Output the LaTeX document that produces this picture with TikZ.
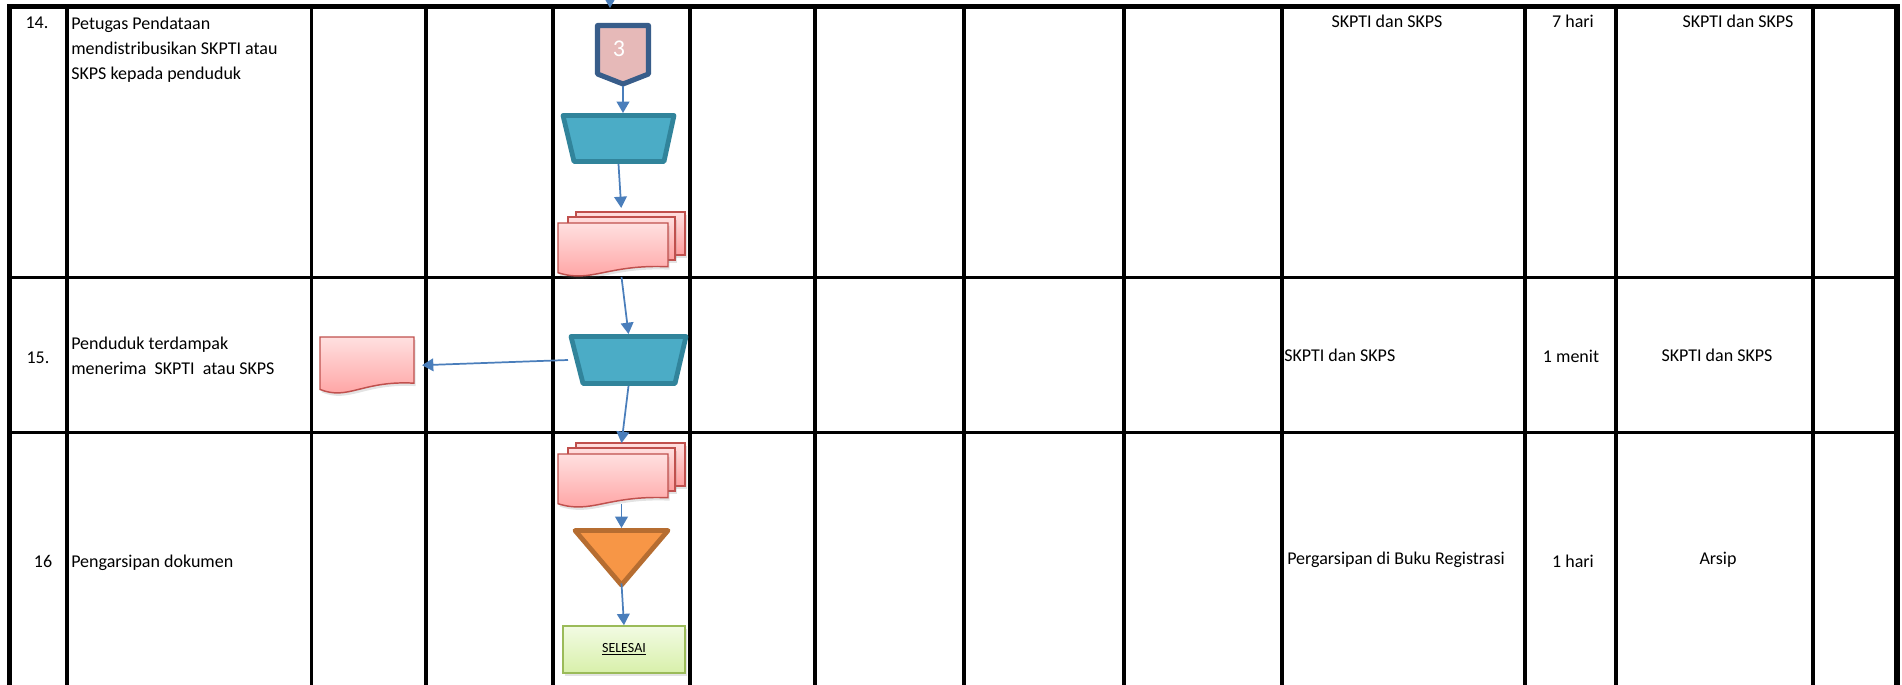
\documentclass[tikz,border=0pt]{standalone}
\usepackage{fontspec}
\setmainfont{Carlito}
\usetikzlibrary{arrows.meta,fit,shadows}

\definecolor{flowblue}{HTML}{4A7EBB}
\definecolor{manfill}{HTML}{4BACC6}
\definecolor{manline}{HTML}{31849B}
\definecolor{pagefill}{HTML}{E6B9B8}
\definecolor{pageline}{HTML}{385D8A}
\definecolor{doctop}{HTML}{FFE0E0}
\definecolor{docbot}{HTML}{FF9E9E}
\definecolor{docline}{HTML}{C0504D}
\definecolor{storefill}{HTML}{F79646}
\definecolor{storeline}{HTML}{B66D31}
\definecolor{endtop}{HTML}{F2FBE3}
\definecolor{endbot}{HTML}{D8F0AA}
\definecolor{endline}{HTML}{9BBB59}

% document sheet: top left corner, right end and lowest point of the wave
\newcommand{\docsheet}[4]{%
  \path[doc,softshadow] ({#1},{#2}) -- ({#3},{#2}) -- ({#3},{#2+0.81*(#4-#2)})
    .. controls ({#1+0.45*(#3-#1)},{#2+0.76*(#4-#2)}) and ({#1+0.3*(#3-#1)},{#2+1.12*(#4-#2)})
    .. ({#1},{#2+0.92*(#4-#2)}) -- cycle;}
% three sheets, front sheet at top left corner
\newcommand{\multidoc}[2]{%
  \path[doc,softshadow] ({#1+18},{#2-11}) rectangle ({#1+127},{#2+32});
  \path[doc,softshadow] ({#1+10},{#2-6}) rectangle ({#1+117},{#2+37});
  \docsheet{#1}{#2}{#1+110}{#2+54}}

\begin{document}
\begin{tikzpicture}[x=0.75pt,y=-0.75pt]
\tikzstyle{grid}=[line width=2.6pt]
\tikzstyle{frame}=[line width=4pt]
\tikzstyle{txt}=[inner sep=0pt,font=\fontsize{13.5}{19}\selectfont]
\tikzstyle{holder}=[inner sep=0pt,outer sep=0pt]
\tikzstyle{softshadow}=[drop shadow={opacity=0.22,shadow xshift=1.2pt,shadow yshift=-2.2pt}]
\tikzstyle{doc}=[draw=docline,line width=1.1pt,top color=doctop,bottom color=docbot]
\tikzstyle{manop}=[draw=manline,fill=manfill,line width=3.6pt,line join=round]
\tikzstyle{offpage}=[draw=pageline,fill=pagefill,line width=3.8pt,line join=round]
\tikzstyle{store}=[draw=storeline,fill=storefill,line width=3.6pt,line join=round]
\tikzstyle{endbox}=[draw=endline,line width=1.2pt,top color=endtop,bottom color=endbot,softshadow,minimum width=91.5pt,minimum height=35.25pt,inner sep=0pt,font=\fontsize{10.5}{12}\selectfont]
\tikzstyle{flow}=[draw=flowblue,line width=1.3pt,-{Triangle[length=8.5pt,width=9.5pt]}]

\useasboundingbox (0,0) rectangle (1902,685);

% table
\foreach \x in {67,311.5,426,553,690,815,964,1124,1282,1525,1616,1813}
  \draw[grid] (\x,7) -- (\x,690);
\foreach \y in {277.5,432.5}
  \draw[grid] (9,\y) -- (1897,\y);
\draw[frame] (9.5,690) -- (9.5,6.7) -- (1897,6.7) -- (1897,690);

% 14
\node[txt,anchor=base] (n14) at (37,29) {14.};
\node[txt,anchor=north west,align=left] (a14) at (71,16.5) {Petugas Pendataan\\mendistribusikan SKPTI atau\\SKPS kepada penduduk};
\node[txt,anchor=base] (d14) at (1387,28) {SKPTI dan SKPS};
\node[txt,anchor=base] (w14) at (1573,28) {7 hari};
\node[txt,anchor=base] (o14) at (1738,28) {SKPTI dan SKPS};

\path[offpage] (597.5,25.5) -- (648.5,25.5) -- (648.5,74) -- (623,84) -- (597.5,74) -- cycle;
\node[holder,fit={(595,23) (651,86)}] (c3) {};
\node[inner sep=0pt,text=white,font=\fontsize{18}{20}\selectfont] (c3lbl) at (619,48.5) {3};
\path[manop] (563,115.5) -- (674,115.5) -- (664,161.5) -- (574,161.5) -- cycle;
\node[holder,fit={(560,113) (677,164)}] (tr1) {};
\multidoc{558}{223}
\node[holder,fit={(558,212) (685,277)}] (md1) {};

% 15
\node[txt,anchor=base] (n15) at (38,363) {15.};
\node[txt,anchor=west,align=left] (a15) at (71,356) {Penduduk terdampak\\menerima~ SKPTI~ atau SKPS};
\node[txt,anchor=base west] (d15) at (1284,361) {SKPTI dan SKPS};
\node[txt,anchor=base] (w15) at (1571,362) {1 menit};
\node[txt,anchor=base] (o15) at (1717,361) {SKPTI dan SKPS};

\docsheet{320}{337}{414}{394}
\node[holder,fit={(320,337) (414,394)}] (doc15) {};
\path[manop] (571,336.5) -- (686,336.5) -- (675,383.5) -- (583,383.5) -- cycle;
\node[holder,fit={(568,334) (689,386)}] (tr2) {};

% 16
\node[txt,anchor=base] (n16) at (43,567) {16};
\node[txt,anchor=base west] (a16) at (71,567) {Pengarsipan dokumen};
\node[txt,anchor=base west] (d16) at (1287,564) {Pergarsipan di Buku Registrasi};
\node[txt,anchor=base] (w16) at (1573,567) {1 hari};
\node[txt,anchor=base] (o16) at (1718,564) {Arsip};

\multidoc{558}{454}
\node[holder,fit={(558,443) (685,508)}] (md2) {};
\path[store] (575,530.5) -- (668,530.5) -- (621.5,585) -- cycle;
\node[holder,fit={(570,528) (673,590)}] (tri) {};
\node[endbox] (sel) at (624,649.5) {\underline{SELESAI}};

% arrows
\coordinate (prevtop) at (610,-12);
\coordinate (prevend) at (610,8);
\draw[flow] (prevtop) -- (prevend);
\draw[flow] (c3.south) -- (c3.south |- tr1.north);
\draw[flow,shorten >=3pt] (tr1.south) -- (md1.north);
\draw[flow] (md1.south) -- (tr2.north);
\draw[flow,shorten >=6pt] (tr2.west) -- (doc15.east);
\draw[flow] (tr2.south) -- (md2.north);
\draw[flow] ([yshift=3pt]md2.south) -- (tri.north);
\draw[flow] ([yshift=5pt]tri.south) -- (sel.north);
\end{tikzpicture}
\end{document}
